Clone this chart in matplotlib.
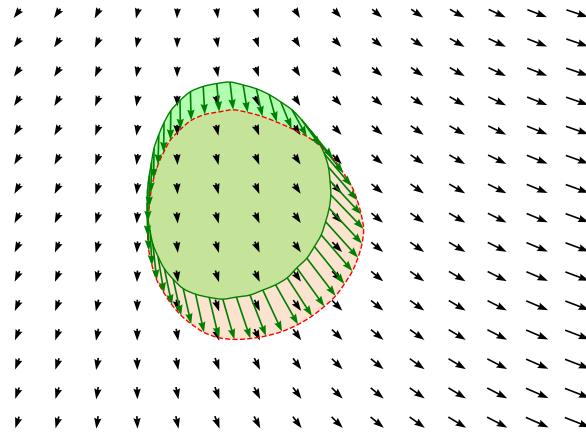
import numpy as np
import matplotlib
matplotlib.use('Agg')
import matplotlib.pyplot as plt
from matplotlib.path import Path
from matplotlib.patches import PathPatch

# velocity field on a 15 x 15 grid (columns left->right, rows top->bottom)
grid_x = np.arange(-7, 8)
grid_y = np.arange(7, -8, -1)

# field: column part + row part
u_col = [-0.175, -0.163, -0.125, -0.063, -0.013, 0.038, 0.075, 0.138,
         0.200, 0.250, 0.300, 0.363, 0.425, 0.488, 0.538]
u_row = [0.0, 0.006, 0.011, 0.017, 0.023, 0.029, 0.034, 0.040,
         0.046, 0.051, 0.057, 0.063, 0.069, 0.074, 0.080]
v_col = [-0.308, -0.318, -0.342, -0.342, -0.342, -0.342, -0.325, -0.308,
         -0.291, -0.284, -0.284, -0.281, -0.274, -0.257, -0.247]
v_row = [0.0, -0.006, -0.012, -0.018, -0.024, -0.031, -0.037, -0.043,
         -0.049, -0.055, -0.061, -0.067, -0.073, -0.079, -0.086]

# boundary of the region before (orig) and after (moved) the displacement
orig_x = [-1.68, -1.35, -1.02, -0.70, -0.41, -0.13, 0.11, 0.33, 0.53, 0.68,
          0.78, 0.82, 0.84, 0.80, 0.71, 0.60, 0.43, 0.24, -0.01, -0.25,
          -0.54, -0.86, -1.18, -1.52, -1.86, -2.20, -2.54, -2.85, -3.10, -3.32,
          -3.48, -3.61, -3.68, -3.74, -3.75, -3.74, -3.70, -3.64, -3.58, -3.46,
          -3.33, -3.16, -2.93, -2.67, -2.35, -2.01]
orig_y = [4.65, 4.55, 4.42, 4.22, 3.97, 3.70, 3.36, 3.00, 2.61, 2.19,
          1.74, 1.27, 0.79, 0.33, -0.13, -0.58, -0.98, -1.38, -1.71, -2.05,
          -2.29, -2.47, -2.64, -2.71, -2.78, -2.72, -2.61, -2.42, -2.10, -1.74,
          -1.32, -0.89, -0.42, 0.04, 0.51, 0.98, 1.45, 1.92, 2.38, 2.85,
          3.26, 3.67, 4.02, 4.32, 4.50, 4.60]
moved_x = [-1.60, -1.24, -0.87, -0.51, -0.14, 0.24, 0.58, 0.89, 1.15, 1.36,
           1.50, 1.60, 1.66, 1.62, 1.52, 1.38, 1.18, 0.96, 0.68, 0.37,
           0.02, -0.38, -0.78, -1.17, -1.57, -1.96, -2.33, -2.65, -2.90, -3.13,
           -3.33, -3.51, -3.63, -3.71, -3.74, -3.73, -3.70, -3.66, -3.59, -3.48,
           -3.34, -3.17, -2.92, -2.65, -2.31, -1.95]
moved_y = [3.70, 3.61, 3.47, 3.28, 3.06, 2.79, 2.46, 2.05, 1.55, 1.09,
           0.61, 0.12, -0.38, -0.88, -1.36, -1.82, -2.26, -2.67, -3.03, -3.36,
           -3.65, -3.89, -4.04, -4.13, -4.16, -4.10, -3.92, -3.63, -3.34, -2.98,
           -2.57, -2.13, -1.63, -1.12, -0.62, -0.12, 0.37, 0.86, 1.34, 1.82,
           2.24, 2.67, 3.03, 3.34, 3.54, 3.63]


def smooth_closed_path(xs, ys):
    # closed curve through the points, drawn as cubic bezier segments
    p = np.column_stack([xs, ys])
    n = len(p)
    verts = [p[0]]
    codes = [Path.MOVETO]
    for i in range(n):
        p0, p1, p2, p3 = p[i - 1], p[i], p[(i + 1) % n], p[(i + 2) % n]
        verts += [p1 + (p2 - p0) / 6, p2 - (p3 - p1) / 6, p2]
        codes += [Path.CURVE4] * 3
    verts.append(p[0])
    codes.append(Path.CLOSEPOLY)
    return Path(verts, codes)


X, Y = np.meshgrid(grid_x, grid_y)
U = np.array(u_col)[None, :] + np.array(u_row)[:, None]
V = np.array(v_col)[None, :] + np.array(v_row)[:, None]

ox, oy = np.array(orig_x), np.array(orig_y)
mx, my = np.array(moved_x), np.array(moved_y)

fig = plt.figure(figsize=(5.86, 4.37), dpi=100)
ax = fig.add_axes([0, 0, 1, 1])

orig_path = smooth_closed_path(ox, oy)
moved_path = smooth_closed_path(mx, my)

# filled regions
ax.add_patch(PathPatch(orig_path, facecolor='lime', alpha=0.3, lw=0, zorder=1))
ax.add_patch(PathPatch(moved_path, facecolor='sandybrown', alpha=0.3, lw=0, zorder=1))

arrow_kw = dict(angles='xy', scale_units='xy', scale=1, width=0.0028,
                headwidth=4.5, headlength=6.5, headaxislength=5.8)

# background field
ax.quiver(X, Y, U, V, pivot='mid', color='black', zorder=2, **arrow_kw)

# outlines
ax.add_patch(PathPatch(orig_path, facecolor='none', edgecolor='green', lw=1, zorder=3))
ax.add_patch(PathPatch(moved_path, facecolor='none', edgecolor='red', ls='--', lw=1, zorder=3))

# displacement of the boundary points
ax.quiver(ox, oy, mx - ox, my - oy, color='green', zorder=4, **arrow_kw)

ax.set_xlim(-7.43, 7.22)
ax.set_ylim(-7.50, 7.46)
ax.axis('off')

fig.savefig('out.png', dpi=100)
